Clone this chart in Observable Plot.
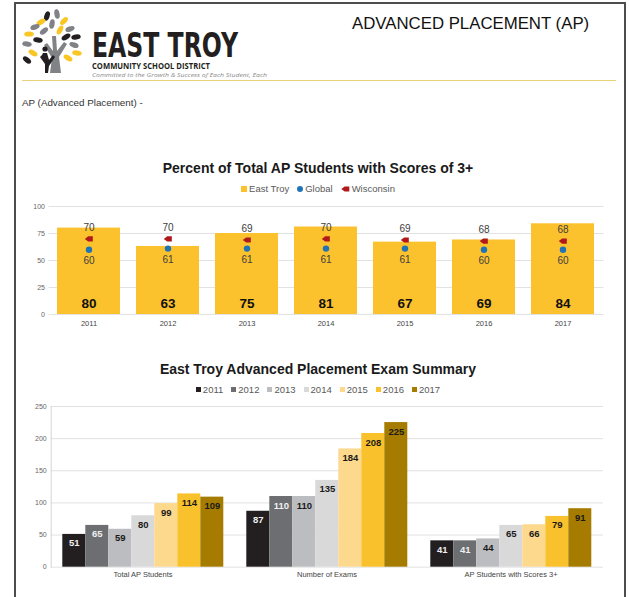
<!DOCTYPE html>
<html><head><meta charset="utf-8">
<script src="https://cdn.jsdelivr.net/npm/d3@7"></script>
<script src="https://cdn.jsdelivr.net/npm/@observablehq/plot@0.6"></script>
<style>
body{margin:0;background:#fff;font-family:"Liberation Sans",Arial,sans-serif;}
#page{position:relative;width:629px;height:597px;overflow:hidden;background:#fff;}
.abs{position:absolute;}
.title{position:absolute;left:18px;width:600px;text-align:center;font-weight:bold;font-size:14px;line-height:17px;color:#1a1a1a;white-space:nowrap;}
.legend{position:absolute;left:18px;width:600px;display:flex;justify-content:center;font-size:9.5px;line-height:12px;color:#595959;white-space:nowrap;}
.legend .item{display:flex;align-items:center;margin:0 4px;}
.legend .sw{display:inline-block;margin-right:2px;}
</style></head>
<body><div id="page">
<div class="abs" style="left:14px;top:2px;width:612px;height:620px;border:2px solid #4d4d4d;border-bottom:none;box-sizing:border-box;"></div>
<svg class="abs" id="header" style="left:0;top:0" width="629" height="115"></svg>
<div class="title" id="t1" style="top:159.5px"></div>
<div class="legend" id="lg1" style="top:183px"></div>
<div class="abs" id="c1" style="left:0;top:195px"></div>
<div class="title" id="t2" style="top:360.5px"></div>
<div class="legend" id="lg2" style="top:383.5px"></div>
<div class="abs" id="g2" style="left:0;top:398px"></div>
<div class="abs" id="c2" style="left:0;top:398px"></div>
</div>
<script>
// ---------- data ----------
const years = ["2011","2012","2013","2014","2015","2016","2017"];
const eastTroy = [80,63,75,81,67,69,84];
const globalPct = [60,61,61,61,61,60,60];
const wisconsin = [70,70,69,70,69,68,68];
const seriesNames1 = ["East Troy","Global","Wisconsin"];
const pctTicks = [0,25,50,75,100];

const summaryCategories = ["Total AP Students","Number of Exams","AP Students with Scores 3+"];
const totalStudents = [51,65,59,80,99,114,109];
const numberOfExams = [87,110,110,135,184,208,225];
const studentsScores3 = [41,41,44,65,66,79,91];
const countTicks = [0,50,100,150,200,250];

const title1 = "Percent of Total AP Students with Scores of 3+";
const title2 = "East Troy Advanced Placement Exam Summary";

// ---------- styles ----------
const yearColors = ["#231f20","#6d6e71","#bcbdc0","#d9d9d9","#fcd98d","#f9c12b","#a67c00"];
const eastColor = "#fcc22d", globalColor = "#1f74b8", wiColor = "#b0181c";
const font = "'Liberation Sans', Arial, sans-serif";

// ---------- header ----------
const NS = "http://www.w3.org/2000/svg";
const hdr = document.getElementById("header");
function el(tag, attrs, text){const e=document.createElementNS(NS,tag);for(const k in attrs)e.setAttribute(k,attrs[k]);if(text!=null)e.textContent=text;hdr.appendChild(e);return e;}
const leaves = [
 [47,16,"#231f20",-70],[57,14,"#808285",-100],[64,21,"#f9c623",-45],[41,22,"#f9c623",-30],
 [52,24,"#808285",-80],[35,27,"#808285",-20],[70,29,"#808285",-20],[29,34,"#f9c623",0],
 [76,37,"#231f20",-10],[60,30,"#f9c623",-60],[27,44,"#808285",10],[74,45,"#808285",20],
 [33,53,"#f9c623",30],[77,53,"#f9c623",10],[27,60,"#231f20",40],[68,58,"#f9c623",30],
 [38,40,"#231f20",10],[66,37,"#231f20",-30],[44,31,"#808285",-40]
];
for(const [x,y,c,a] of leaves) el("ellipse",{cx:x,cy:y,rx:4.8,ry:2.6,fill:c,transform:`rotate(${a} ${x} ${y})`});
el("path",{d:"M50,73 L61,73 L59,57 L67,44 L64,42 L57,51 L56,36 L52,36 L53,51 L47,43 L44,45 L52,58 Z",fill:"#808285"});
el("circle",{cx:45,cy:49,r:2.6,fill:"#231f20"});
el("path",{d:"M43,53 L47,53 L49,60 L53,55 L55,57 L49,66 L48,73 L45,73 L45,64 L40,57 L42,55 Z",fill:"#231f20"});
el("text",{x:92,y:57,"font-family":"'DejaVu Sans Condensed','DejaVu Sans',sans-serif","font-weight":"bold","font-size":34,textLength:146,lengthAdjust:"spacingAndGlyphs",fill:"#231f20"},"EAST TROY");
el("text",{x:92,y:68.5,"font-family":"'Open Sans',sans-serif","font-weight":"bold","font-size":8.4,textLength:118,lengthAdjust:"spacingAndGlyphs",fill:"#231f20"},"COMMUNITY SCHOOL DISTRICT");
el("text",{x:92,y:76.5,"font-family":"'Open Sans',sans-serif","font-style":"italic","font-size":5.4,textLength:175,lengthAdjust:"spacingAndGlyphs",fill:"#8a8a8a"},"Committed to the Growth & Success of Each Student, Each");
el("text",{x:352,y:29,"font-family":font,"font-size":16.8,fill:"#111"},"ADVANCED PLACEMENT (AP)");
el("rect",{x:22,y:80,width:594,height:1,fill:"#e8d27a"});
el("text",{x:22,y:105.5,"font-family":font,"font-size":9.8,fill:"#333"},"AP (Advanced Placement) -");

// ---------- titles & legends ----------
document.getElementById("t1").textContent = title1;
document.getElementById("t2").textContent = title2;
const wiPath = "M-4.2,0 L-0.8,-2.6 L3.8,-2.6 L3.8,2.6 L-0.8,2.6 Z";
const sw1 = [
 `<span class="sw" style="width:6px;height:6px;background:${eastColor}"></span>`,
 `<span class="sw" style="width:6px;height:6px;border-radius:50%;background:${globalColor}"></span>`,
 `<svg class="sw" width="9" height="6" viewBox="-4.5 -3 9 6"><path d="${wiPath}" fill="${wiColor}"/></svg>`
];
document.getElementById("lg1").innerHTML = seriesNames1.map((n,i)=>`<span class="item">${sw1[i]}${n}</span>`).join("");
document.getElementById("lg2").innerHTML = years.map((y,i)=>`<span class="item"><span class="sw" style="width:5px;height:5px;background:${yearColors[i]}"></span>${y}</span>`).join("");

// ---------- chart 1 ----------
const data1 = years.map((y,i)=>({year:y, east:eastTroy[i], global:globalPct[i], wi:wisconsin[i]}));
const wiSymbol = {draw(ctx,size){const r=Math.sqrt(size/Math.PI)/3.5;
  ctx.moveTo(-4.2*r,0);ctx.lineTo(-0.8*r,-2.6*r);ctx.lineTo(3.8*r,-2.6*r);ctx.lineTo(3.8*r,2.6*r);ctx.lineTo(-0.8*r,2.6*r);ctx.closePath();}};
const p1 = Plot.plot({
  width:629, height:140, marginTop:11, marginBottom:21, marginLeft:48.5, marginRight:25.5,
  style:{fontFamily:font, background:"transparent", overflow:"visible"},
  x:{domain:years, paddingInner:0.2, paddingOuter:0.1, axis:null},
  y:{domain:[0,100], axis:null},
  marks:[
    Plot.ruleY(pctTicks,{stroke:"#e2e2e2"}),
    Plot.barY(data1,{x:"year", y:"east", fill:eastColor}),
    Plot.axisY({ticks:pctTicks, tickSize:0, tickPadding:4, fontSize:7, color:"#666", label:null}),
    Plot.axisX({tickSize:0, tickPadding:6.4, fontSize:7.5, color:"#444", label:null}),
    Plot.dot(data1,{x:"year", y:"wi", symbol:wiSymbol, r:3.5, fill:wiColor}),
    Plot.dot(data1,{x:"year", y:"global", r:3.2, fill:globalColor}),
    Plot.text(data1,{x:"year", y:"wi", text:"wi", dy:-11, fontSize:10, fill:"#404040"}),
    Plot.text(data1,{x:"year", y:"global", text:"global", dy:11, fontSize:10, fill:"#404040"}),
    Plot.text(data1,{x:"year", y:0, text:"east", dy:-11, fontSize:13.5, fontWeight:"bold", fill:"#111"})
  ]
});
document.getElementById("c1").appendChild(p1);

// ---------- chart 2 ----------
const groups = [totalStudents, numberOfExams, studentsScores3];
const data2 = summaryCategories.flatMap((c,gi)=>years.map((y,i)=>({cat:c, year:y, value:groups[gi][i]})));
const dims2 = {width:629, height:190, marginTop:8, marginBottom:21.3, marginLeft:50.7, marginRight:26};
// continuous gridlines + y axis, drawn beneath the faceted bars with the same y scale
const grid2 = Plot.plot({
  ...dims2,
  style:{fontFamily:font, background:"transparent", overflow:"visible"},
  y:{domain:[0,250], axis:null},
  marks:[
    Plot.ruleY(countTicks,{stroke:"#e2e2e2"}),
    Plot.frame({anchor:"left", stroke:"#d4d4d4"}),
    Plot.axisY({ticks:countTicks, tickSize:0, tickPadding:4.5, fontSize:7, color:"#666", label:null})
  ]
});
document.getElementById("g2").appendChild(grid2);
const p2 = Plot.plot({
  ...dims2,
  style:{fontFamily:font, background:"transparent", overflow:"visible"},
  fx:{domain:summaryCategories, paddingInner:0.094, paddingOuter:0.047, axis:null},
  x:{domain:years, padding:0, axis:null},
  y:{domain:[0,250], axis:null},
  color:{domain:years, range:yearColors},
  marks:[
    Plot.barY(data2,{fx:"cat", x:"year", y:"value", fill:"year"}),
    Plot.text(data2,{fx:"cat", x:"year", y:"value", text:"value", dy:9, fontSize:9.5, fontWeight:"bold",
      fill:d=>(d.year==="2011"||d.year==="2012")?"#f0f0f0":"#1a1a1a"}),
    Plot.axisFx({anchor:"bottom", tickSize:0, tickPadding:4.7, fontSize:7.5, color:"#444", label:null})
  ]
});
document.getElementById("c2").appendChild(p2);
</script>
</body></html>
